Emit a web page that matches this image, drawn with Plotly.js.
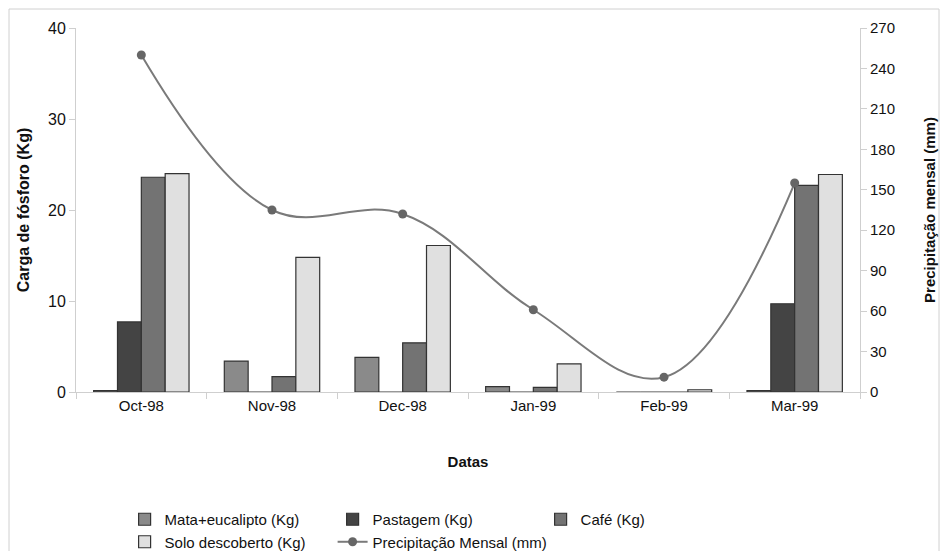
<!DOCTYPE html>
<html><head><meta charset="utf-8">
<script src="https://cdn.plot.ly/plotly-3.0.1.min.js"></script>
<style>html,body{margin:0;padding:0;background:#fff}#c{width:940px;height:551px}</style>
</head><body><div id="c"></div>
<script>
const categories = ["Oct-98","Nov-98","Dec-98","Jan-99","Feb-99","Mar-99"];
const mataEucalipto = [0.15, 3.4, 3.8, 0.6, 0, 0.15];
const pastagem = [7.7, 0, 0, 0, 0, 9.7];
const cafe = [23.6, 1.7, 5.4, 0.5, 0, 22.7];
const soloDescoberto = [24.0, 14.8, 16.1, 3.1, 0.25, 23.9];
const precipitacao = [250, 135, 132, 61, 11, 155];
const leftTicks = [0,10,20,30,40];
const rightTicks = [0,30,60,90,120,150,180,210,240,270];

const border = {color:'#333', width:1.2};
const font = {family:'"Liberation Sans", Arial, sans-serif', size:15, color:'#111'};
function bar(name, y, color){
  return {type:'bar', name:name, x:categories, y:y, marker:{color:color, line:border}, yaxis:'y'};
}
const data = [
  bar('Mata+eucalipto (Kg)', mataEucalipto, '#8a8a8a'),
  bar('Pastagem (Kg)', pastagem, '#444444'),
  bar('Café (Kg)', cafe, '#737373'),
  bar('Solo descoberto (Kg)', soloDescoberto, '#e0e0e0'),
  {type:'scatter', mode:'lines+markers', name:'Precipitação Mensal (mm)', x:categories, y:precipitacao,
   yaxis:'y2', line:{color:'#7a7a7a', width:2, shape:'spline', smoothing:1.1},
   marker:{color:'#666', size:9}}
];
const layout = {
  width:940, height:551,
  margin:{l:76, r:80, t:28, b:159, autoexpand:false},
  paper_bgcolor:'#fff', plot_bgcolor:'#fff',
  font:font,
  barmode:'group', bargap:0.27, bargroupgap:0,
  showlegend:true,
  legend:{orientation:'h', x:0.062, xanchor:'left', y:-0.305, yanchor:'top',
    entrywidth:163, entrywidthmode:'pixels', font:{size:15}, traceorder:'normal', itemwidth:30,
    tracegroupgap:0},
  xaxis:{type:'category', showline:true, linecolor:'#cfcfcf', ticks:'outside', tickson:'boundaries',
    tickcolor:'#cfcfcf', ticklen:6, showgrid:false, tickfont:{size:15}, automargin:false,
    title:{text:'<b>Datas</b>', font:{size:15}, standoff:43}},
  yaxis:{range:[0,40], tickvals:leftTicks, showline:true, linecolor:'#cfcfcf', ticks:'outside',
    tickcolor:'#cfcfcf', ticklen:6, showgrid:false, zeroline:false, tickfont:{size:16}, automargin:false,
    title:{text:'<b>Carga de fósforo (Kg)</b>', font:{size:16}, standoff:14}},
  yaxis2:{range:[0,270], tickvals:rightTicks, overlaying:'y', side:'right', showline:true,
    linecolor:'#cfcfcf', ticks:'outside', tickcolor:'#cfcfcf', ticklen:6, showgrid:false,
    zeroline:false, tickfont:{size:15}, automargin:false,
    title:{text:'<b>Precipitação mensal (mm)</b>', font:{size:15}, standoff:30}},
  shapes:[{type:'rect', xref:'paper', yref:'paper',
    x0:(9-76)/784, x1:(939-76)/784, y0:(392-553)/364, y1:(392-9)/364,
    line:{color:'#d0d0d0', width:1}, fillcolor:'rgba(0,0,0,0)', layer:'below'}]
};
Plotly.newPlot('c', data, layout, {displayModeBar:false, staticPlot:true});
</script></body></html>
